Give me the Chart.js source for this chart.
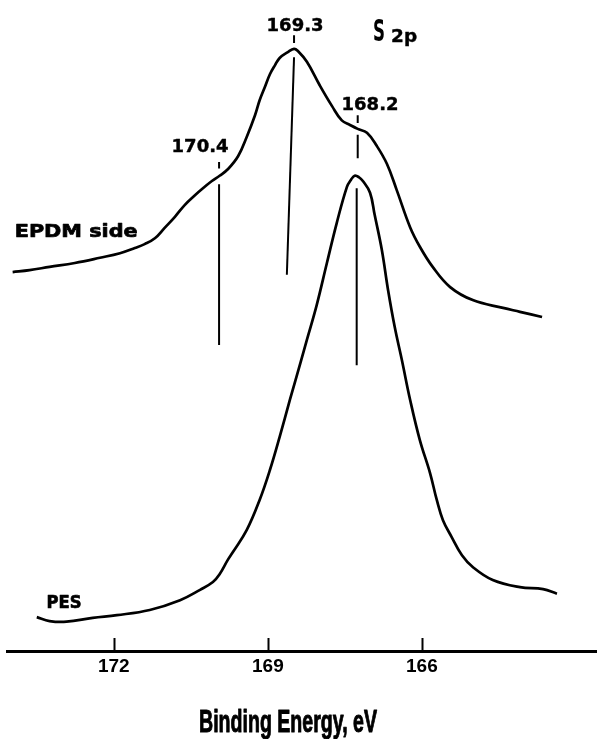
<!DOCTYPE html>
<html>
<head>
<meta charset="utf-8">
<script src="https://cdn.jsdelivr.net/npm/chart.js@4/dist/chart.umd.min.js"></script>
<style>
html,body{margin:0;padding:0;background:#fff;}
#wrap{width:597px;height:739px;position:relative;}
</style>
</head>
<body>
<div id="wrap"><canvas id="c"></canvas></div>
<script>
// ---- data (binding energy in eV, intensity in arbitrary units) ----
const epdmEnergy = [173.97,173.64,173.25,172.76,172.27,171.88,171.59,171.40,171.20,171.01,170.81,170.62,170.42,170.23,170.09,169.94,169.78,169.58,169.41,169.25,169.16,169.06,168.96,168.86,168.77,168.61,168.49,168.42,168.24,167.99,167.75,167.56,167.40,167.25,167.07,166.88,166.68,166.49,166.23,166.04,165.79,165.45,165.01,164.42,164.09,163.66];
const epdmIntensity = [58.2,58.5,59.0,59.6,60.4,61.1,61.9,62.5,63.4,65.0,66.7,68.5,70.0,71.3,72.2,73.0,74.0,76.0,79.0,82.3,84.6,86.6,88.6,90.0,91.1,92.0,92.5,92.2,90.5,86.9,83.7,81.5,80.8,80.2,79.6,77.6,74.8,70.8,65.1,62.1,59.0,55.9,53.9,52.7,52.1,51.3];

const pesEnergy = [173.50,173.25,172.92,172.41,171.94,171.30,170.71,170.32,170.07,169.94,169.78,169.68,169.41,169.16,168.96,168.77,168.57,168.36,168.24,168.05,167.85,167.66,167.46,167.38,167.31,167.23,167.15,167.01,166.92,166.78,166.66,166.53,166.39,166.23,166.04,165.84,165.71,165.59,165.42,165.22,165.01,164.62,164.09,163.64,163.37];
const pesIntensity = [5.2,4.6,4.5,5.1,5.5,6.3,7.8,9.4,10.6,11.8,14.0,15.2,18.6,23.2,27.8,32.9,38.6,44.4,47.8,53.1,59.6,65.7,71.3,72.4,73.0,72.8,72.2,70.4,67.0,61.6,55.5,49.8,44.7,38.6,32.4,27.3,23.2,20.1,17.5,14.7,12.9,10.9,9.8,9.5,8.8];

const xTickValues = [172, 169, 166];
const xMin = 162.59, xMax = 174.08;

// peak marker segments: [energy, intensity] pairs
const markerSegments = [
  [[169.95,75.1],[169.95,74.1]],
  [[169.95,71.7],[169.95,47.0]],
  [[168.49,94.6],[168.49,93.4]],
  [[168.49,91.2],[168.63,57.8]],
  [[167.25,82.3],[167.25,81.1]],
  [[167.25,79.3],[167.25,75.7]],
  [[167.27,71.1],[167.27,43.9]]
];

const peakLabelText = ['170.4','169.3','168.2'];
const peakLabelEnergy = [170.32,168.47,167.01];
const peakLabelIntensity = [76.7,95.2,83.1];

const seriesLabelText = ['EPDM side','PES'];
const seriesLabelEnergy = [173.93,173.31];
const seriesLabelIntensity = [63.6,6.6];

const axisTitle = 'Binding Energy, eV';

// ---- build datasets ----
const toPts = (xs, ys) => xs.map((x,i)=>({x:x, y:ys[i]}));
const curveStyle = {borderColor:'#000', borderWidth:2.7, pointRadius:0, fill:false, tension:0.4};
const datasets = [
  Object.assign({label:'EPDM side', data:toPts(epdmEnergy, epdmIntensity)}, curveStyle),
  Object.assign({label:'PES', data:toPts(pesEnergy, pesIntensity)}, curveStyle)
];
markerSegments.forEach((seg,i)=>{
  datasets.push({label:'marker'+i, data:seg.map(p=>({x:p[0],y:p[1]})), borderColor:'#000', borderWidth:2, pointRadius:0, tension:0, fill:false});
});

function drawFitText(ctx, text, x, y, font, width, align, stroke){
  ctx.save();
  ctx.font = font;
  ctx.fillStyle = '#000';
  ctx.strokeStyle = '#000';
  ctx.textBaseline = 'alphabetic';
  ctx.textAlign = 'left';
  const nat = ctx.measureText(text).width;
  const sx = width / nat;
  const left = align === 'center' ? x - width/2 : x;
  ctx.translate(left, y);
  ctx.scale(sx, 1);
  ctx.fillText(text, 0, 0);
  if (stroke) { ctx.lineWidth = stroke; ctx.lineJoin = 'round'; ctx.strokeText(text, 0, 0); }
  ctx.restore();
}

const annotPlugin = {
  id:'annot',
  afterDraw(chart){
    const ctx = chart.ctx, xs = chart.scales.x, ys = chart.scales.y;
    const ca = chart.chartArea;
    ctx.save();
    // inward tick marks
    ctx.strokeStyle = '#000';
    ctx.lineWidth = 2;
    xTickValues.forEach(v=>{
      const px = Math.round(xs.getPixelForValue(v)) + 0.5;
      ctx.beginPath(); ctx.moveTo(px, ca.bottom); ctx.lineTo(px, ca.bottom - 13); ctx.stroke();
    });
    const lblFont = 'bold 17px "DejaVu Sans", sans-serif';
    peakLabelText.forEach((t,i)=>{
      drawFitText(ctx, t, xs.getPixelForValue(peakLabelEnergy[i]), ys.getPixelForValue(peakLabelIntensity[i]), lblFont, 57, 'center', 0.4);
    });
    drawFitText(ctx, seriesLabelText[0], xs.getPixelForValue(seriesLabelEnergy[0]), ys.getPixelForValue(seriesLabelIntensity[0]), 'bold 18px "DejaVu Sans", sans-serif', 123, 'left', 0.7);
    drawFitText(ctx, seriesLabelText[1], xs.getPixelForValue(seriesLabelEnergy[1]), ys.getPixelForValue(seriesLabelIntensity[1]), 'bold 18px "DejaVu Sans", sans-serif', 35, 'left', 0.7);
    // S 2p
    drawFitText(ctx, 'S', xs.getPixelForValue(166.95), ys.getPixelForValue(93.7), 'bold 31px "DejaVu Sans", sans-serif', 12, 'left', 0);
    drawFitText(ctx, '2p', xs.getPixelForValue(166.60), ys.getPixelForValue(93.5), 'bold 17px "DejaVu Sans", sans-serif', 26, 'left', 0.4);
    // axis title
    const tx = (ca.left + ca.right)/2 - 14;
    drawFitText(ctx, axisTitle, tx, chart.height - 7, 'bold 32px "Liberation Sans", sans-serif', 178, 'center', 1);
    ctx.restore();
  }
};

new Chart(document.getElementById('c'), {
  type:'line',
  data:{datasets:datasets},
  options:{
    responsive:true,
    maintainAspectRatio:false,
    animation:false,
    devicePixelRatio:1,
    layout:{padding:{left:7,right:0,top:0,bottom:0}},
    plugins:{legend:{display:false}, tooltip:{enabled:false}, title:{display:false}},
    scales:{
      x:{
        type:'linear', position:'bottom', reverse:true, min:xMin, max:xMax,
        grid:{display:false, drawTicks:false},
        border:{display:true, color:'#000', width:3},
        ticks:{padding:4, color:'#000', autoSkip:false, maxRotation:0,
               font:{family:'"Liberation Sans", Arial, sans-serif', weight:'bold', size:19},
               callback:(v)=>String(v)},
        afterBuildTicks:(s)=>{ s.ticks = xTickValues.map(v=>({value:v})); },
        afterFit:(s)=>{ s.height = 88; }
      },
      y:{type:'linear', display:false, min:0, max:100}
    }
  },
  plugins:[annotPlugin]
});
</script>
</body>
</html>
